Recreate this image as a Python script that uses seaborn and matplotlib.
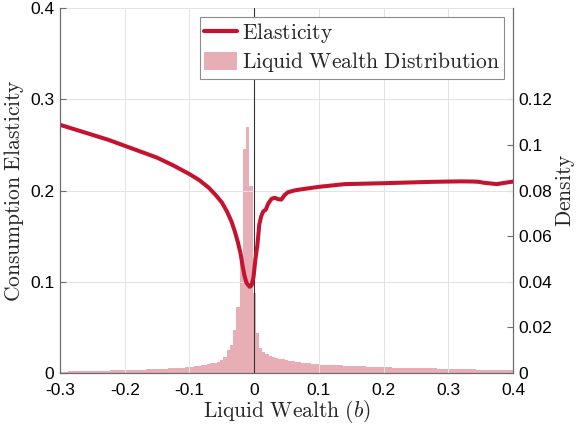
import numpy as np
import pandas as pd
import matplotlib
matplotlib.use("Agg")
import matplotlib.pyplot as plt
import seaborn as sns
from matplotlib.lines import Line2D
from matplotlib.patches import Patch

# -------------------------------
# Data
# -------------------------------
# consumption elasticity vs liquid wealth
wealth = [-0.300, -0.275, -0.250, -0.225, -0.200, -0.175, -0.150, -0.125,
          -0.100, -0.085, -0.070, -0.060, -0.050, -0.042, -0.035, -0.030,
          -0.025, -0.021, -0.018, -0.015, -0.012, -0.007, -0.004, -0.001,
          0.002, 0.005, 0.008, 0.011, 0.014, 0.018, 0.022, 0.027, 0.032,
          0.037, 0.042, 0.047, 0.052, 0.062, 0.070, 0.080, 0.100, 0.120,
          0.140, 0.170, 0.200, 0.225, 0.250, 0.275, 0.300, 0.320, 0.340,
          0.347, 0.355, 0.375, 0.388, 0.400]
elasticity = [0.272, 0.2665, 0.261, 0.2555, 0.249, 0.2425, 0.236, 0.2275,
              0.218, 0.2115, 0.203, 0.1955, 0.187, 0.177, 0.166, 0.1555,
              0.143, 0.131, 0.118, 0.107, 0.099, 0.0945, 0.096, 0.105,
              0.125, 0.140, 0.163, 0.172, 0.177, 0.179, 0.186, 0.191, 0.192,
              0.1905, 0.190, 0.195, 0.198, 0.200, 0.201, 0.202, 0.204, 0.2055,
              0.207, 0.2075, 0.208, 0.2085, 0.209, 0.2095, 0.2098, 0.2100, 0.2098,
              0.2095, 0.2085, 0.207, 0.2085, 0.2098]

# liquid wealth distribution, bins of width 0.005 centred on -0.300 ... 0.400
bin_width = 0.005
bin_centers = np.round(np.arange(-0.300, 0.4001, bin_width), 4)
density = [
    0.0006, 0.0006, 0.0006, 0.0007, 0.0007, 0.0007, 0.0007, 0.0008, 0.0008, 0.0008,
    0.0009, 0.0009, 0.0009, 0.0010, 0.0010, 0.0010, 0.0011, 0.0011, 0.0012, 0.0012,
    0.0013, 0.0013, 0.0013, 0.0014, 0.0014, 0.0015, 0.0015, 0.0016, 0.0016, 0.0017,
    0.0018, 0.0018, 0.0019, 0.0019, 0.0020, 0.0021, 0.0022, 0.0023, 0.0024, 0.0025,
    0.0026, 0.0027, 0.0029, 0.0031, 0.0033, 0.0036, 0.0039, 0.0042, 0.0045, 0.0050,
    0.0058, 0.0072, 0.0100, 0.0123, 0.0190, 0.0290, 0.0500, 0.0980, 0.1080, 0.0820,
    0.0350,
    0.0174, 0.0108, 0.0091, 0.0082, 0.0076, 0.0071, 0.0067, 0.0063, 0.0060, 0.0057,
    0.0054, 0.0052, 0.0050, 0.0048, 0.0046, 0.0044, 0.0043, 0.0041, 0.0040, 0.0038,
    0.0037, 0.0036, 0.0035, 0.0035, 0.0034, 0.0033, 0.0033, 0.0032, 0.0031, 0.0031,
    0.0030, 0.0030, 0.0029, 0.0029, 0.0028, 0.0028, 0.0027, 0.0027, 0.0026, 0.0026,
    0.0025, 0.0025, 0.0024, 0.0024, 0.0024, 0.0023, 0.0023, 0.0022, 0.0022, 0.0022,
    0.0021, 0.0021, 0.0021, 0.0020, 0.0020, 0.0020, 0.0019, 0.0019, 0.0019, 0.0018,
    0.0018, 0.0018, 0.0017, 0.0017, 0.0017, 0.0016, 0.0016, 0.0016, 0.0015, 0.0015,
    0.0015, 0.0015, 0.0014, 0.0014, 0.0014, 0.0014, 0.0013, 0.0013, 0.0013, 0.0013,
]

x_ticks = [-0.3, -0.2, -0.1, 0.0, 0.1, 0.2, 0.3, 0.4]
x_labels = ["-0.3", "-0.2", "-0.1", "0", "0.1", "0.2", "0.3", "0.4"]
left_ticks = [0.0, 0.1, 0.2, 0.3, 0.4]
left_labels = ["0", "0.1", "0.2", "0.3", "0.4"]
right_ticks = [0.0, 0.02, 0.04, 0.06, 0.08, 0.10, 0.12]
right_labels = ["0", "0.02", "0.04", "0.06", "0.08", "0.1", "0.12"]

hist_df = pd.DataFrame({"wealth": bin_centers, "density": density})
line_df = pd.DataFrame({"wealth": wealth, "elasticity": elasticity})

# -------------------------------
# Style
# -------------------------------
sns.set_theme(style="white")
plt.rcParams["font.family"] = ["Liberation Sans", "DejaVu Sans"]
plt.rcParams["mathtext.fontset"] = "cm"
plt.rcParams["axes.unicode_minus"] = False

red = "#C4122F"
pink = "#E8AEB6"
axis_gray = "#6b6b6b"
label_size = 15.5

fig, ax = plt.subplots(figsize=(5.77, 4.24), dpi=100)
fig.subplots_adjust(left=60 / 577, right=513 / 577, top=1 - 8 / 424, bottom=1 - 373 / 424)
ax2 = ax.twinx()

# histogram on the right axis
edges = list(np.append(bin_centers - bin_width / 2, bin_centers[-1] + bin_width / 2))
sns.histplot(data=hist_df, x="wealth", weights="density", bins=edges, ax=ax2,
             element="step", fill=True, color=pink, alpha=1, linewidth=0)

# elasticity line on the left axis (drawn on top)
ax.set_zorder(ax2.get_zorder() + 1)
ax.patch.set_visible(False)
sns.lineplot(data=line_df, x="wealth", y="elasticity", ax=ax, color=red,
             linewidth=2.9, solid_joinstyle="round", solid_capstyle="round")
ax.axvline(0, color="#333333", linewidth=0.8, zorder=1)

ax.set_xlim(-0.3, 0.4)
ax.set_ylim(0, 0.4)
ax2.set_ylim(0, 0.16)

ax.set_xticks(x_ticks, x_labels)
ax.set_yticks(left_ticks, left_labels)
ax2.set_yticks(right_ticks, right_labels)

ax.grid(True, color="#e3e3e3", linewidth=0.7)
ax2.grid(False)

for a in (ax, ax2):
    a.tick_params(direction="in", length=4, width=0.8, color=axis_gray,
                  labelsize=12.5, labelcolor="black")
    a.spines["top"].set_visible(False)
    for s in ("left", "right", "bottom"):
        a.spines[s].set_color(axis_gray)
        a.spines[s].set_linewidth(0.8)
ax.tick_params(axis="x", pad=7)
ax.tick_params(axis="y", pad=4)
ax2.tick_params(axis="y", pad=4)

ax.set_xlabel(r"$\mathrm{Liquid\ Wealth}\ (b)$", fontsize=label_size, labelpad=0)
ax.set_ylabel(r"$\mathrm{Consumption\ Elasticity}$", fontsize=label_size, labelpad=3)
ax2.set_ylabel(r"$\mathrm{Density}$", fontsize=label_size, labelpad=1)

handles = [Line2D([0], [0], color=red, linewidth=3),
           Patch(facecolor=pink, edgecolor="none")]
labels = [r"$\mathrm{Elasticity}$", r"$\mathrm{Liquid\ Wealth\ Distribution}$"]
leg = ax.legend(handles, labels, loc="upper right", fontsize=label_size, frameon=True,
                fancybox=False, edgecolor="#8c8c8c", framealpha=1,
                borderaxespad=0.4, handlelength=1.5, handleheight=0.9,
                handletextpad=0.25, borderpad=0.2, labelspacing=0.25)
leg.get_frame().set_linewidth(0.8)

fig.savefig("out.png", dpi=100)
